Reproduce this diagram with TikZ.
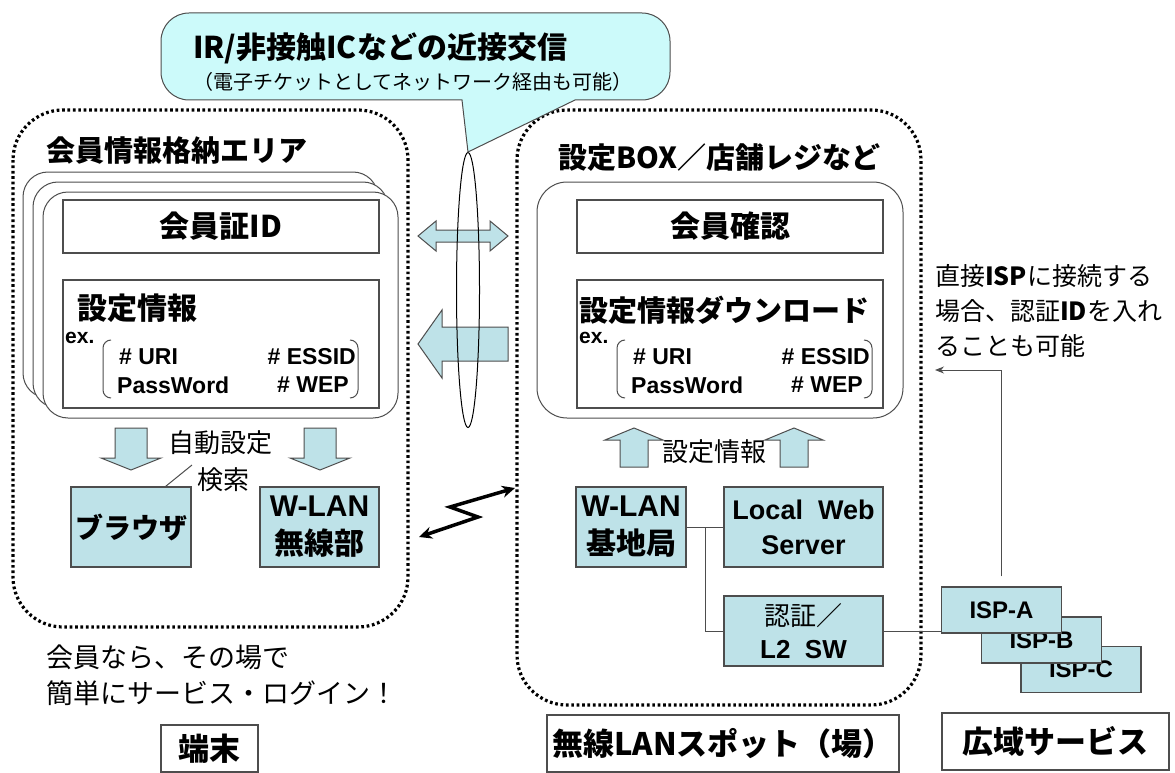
\documentclass[tikz,border=0pt]{standalone}
\usepackage{fontspec}
\setmainfont{Noto Sans CJK JP}
\newfontfamily\lat{Liberation Sans}
\usetikzlibrary{arrows.meta,shapes.geometric}
\definecolor{boxblue}{HTML}{BEE2E8}
\definecolor{callcyan}{HTML}{CCFAFA}
\definecolor{linegray}{HTML}{4D4D4D}
\newcommand\fsz[2]{\fontsize{#1pt}{#2pt}\selectfont}
\begin{document}
\begin{tikzpicture}[x=1pt,y=-1pt]
    % Styles for the areas, boxes and arrows
    \tikzset{
        dotbox/.style={
            draw,
            line width=3.2pt,
            dash pattern=on 2.7pt off 2.7pt,
            line cap=butt,
            rounded corners=50pt
        },
        card/.style={
            draw=linegray,
            fill=white,
            line width=1pt,
            rounded corners=25pt
        },
        plainbox/.style={
            draw=linegray,
            line width=1.2pt,
            fill=white,
            inner sep=0pt,
            align=center
        },
        bluebox/.style={
            plainbox,
            fill=boxblue
        },
        blockarrow/.style={
            draw=linegray,
            fill=boxblue,
            line width=1pt
        },
        txt/.style={
            inner sep=0pt,
            anchor=west
        },
        zap/.style={
            line width=3.5pt,
            {Stealth[length=13pt,width=12pt]}-{Stealth[length=13pt,width=12pt]}
        }
    }
    \useasboundingbox (0,0) rectangle (1175,773);
    % Dotted areas for terminal and spot
    \draw[dotbox] (13,110) rectangle (408,627);
    \draw[dotbox] (517,110) rectangle (921,705);
    \node[txt, font=\fsz{29}{29}\bfseries] (termtitle) at (46,150) {会員情報格納エリア};
    \node[txt, font=\fsz{29}{29}\bfseries] (spottitle) at (558,158) {設定BOX／店舗レジなど};
    % Stack of member cards, back to front
    \foreach \k in {2,1,0} {
        \draw[card] (43-10*\k,192-10*\k) rectangle ++(355,226);
    }
    \draw[card, rounded corners=30pt] (537,182) rectangle (903,418);
    % Boxes on the cards
    \node[plainbox, minimum width=316pt, minimum height=53pt, font=\fsz{30}{30}\bfseries] (memberid) at (221,226.5) {会員証ID};
    \node[plainbox, minimum width=316pt, minimum height=128pt] (setinfo) at (221,344) {};
    \node[plainbox, minimum width=306pt, minimum height=53pt, font=\fsz{30}{30}\bfseries] (memcheck) at (730,226.5) {会員確認};
    \node[plainbox, minimum width=306pt, minimum height=128pt] (download) at (730,344) {};
    \node[txt, font=\fsz{30}{30}\bfseries] (setinfotitle) at (77,308) {設定情報};
    \node[txt, font=\fsz{29}{29}\bfseries] (downloadtitle) at (579,310) {設定情報ダウンロード};
    % Example entries, same in both boxes
    \foreach \x in {63,577} {
        \node[txt, font=\lat\fsz{21}{21}\bfseries] at (\x+2,338) {ex.};
        \draw[linegray, line width=1pt, rounded corners=8pt] (\x+48,340) -- (\x+40,340) -- (\x+40,398) -- (\x+48,398);
        \draw[linegray, line width=1pt, rounded corners=8pt] (\x+287,340) -- (\x+295,340) -- (\x+295,398) -- (\x+287,398);
        \node[txt, font=\lat\fsz{23}{23}\bfseries] at (\x+56,357) {\# URI};
        \node[txt, font=\lat\fsz{23}{23}\bfseries, anchor=east] at (\x+293,357) {\# ESSID};
        \node[txt, font=\lat\fsz{23}{23}\bfseries] at (\x+54,385) {PassWord};
        \node[txt, font=\lat\fsz{23}{23}\bfseries, anchor=east] at (\x+286,385) {\# WEP};
    }
    % Block arrows across the link
    \draw[blockarrow] (418,236) -- (436,221) -- (436,230) -- (490,230) -- (490,221) -- (508,236)
        -- (490,251) -- (490,242) -- (436,242) -- (436,251) -- cycle;
    \draw[blockarrow] (418,344) -- (442,310) -- (442,327) -- (508,327) -- (508,361) -- (442,361) -- (442,378) -- cycle;
    % Down arrows to browser and W-LAN, up arrows to download
    \foreach \ax in {131,320} {
        \draw[blockarrow] (\ax-16,428) -- (\ax+16,428) -- (\ax+16,458) -- (\ax+30,458) -- (\ax,470)
            -- (\ax-30,458) -- (\ax-16,458) -- cycle;
    }
    \foreach \ax in {634,794} {
        \draw[blockarrow] (\ax-14,467) -- (\ax+14,467) -- (\ax+14,440) -- (\ax+29,440) -- (\ax,428)
            -- (\ax-29,440) -- (\ax-14,440) -- cycle;
    }
    \node[txt, font=\fsz{26}{26}] (autoset) at (168,443) {自動設定};
    \node[txt, font=\fsz{26}{26}] (search) at (197,480) {検索};
    \node[txt, font=\fsz{26}{26}] (setflow) at (662,452) {設定情報};
    % Near field link and callout
    \node[draw, line width=1pt, ellipse, minimum width=23pt, minimum height=275pt, inner sep=0pt] (link) at (468,290) {};
    \draw[fill=callcyan, draw=linegray, line width=1pt] (link.north) -- (462,100) [rounded corners=28pt] -- (161,100)
        -- (161,13) -- (670,13) -- (670,100) [sharp corners] -- (575,100) -- cycle;
    \node[txt, font=\fsz{30}{30}\bfseries] (calltitle) at (193,48) {IR/非接触ICなどの近接交信};
    \node[txt, font=\fsz{20}{20}] (callnote) at (193,82) {（電子チケットとしてネットワーク経由も可能）};
    % Terminal parts
    \node[bluebox, minimum width=120pt, minimum height=80pt, font=\fsz{28}{28}\bfseries] (browser) at (131,527) {ブラウザ};
    \node[bluebox, minimum width=119pt, minimum height=80pt, font=\fsz{30}{38}\bfseries] (wlanif) at (319.5,527) {{\lat W-LAN}\\無線部};
    \coordinate (slashtop) at (192,465);
    \draw[linegray, line width=1pt] ([xshift=-26pt]browser.north east) -- (slashtop);
    % Wireless link between terminal and spot
    \coordinate (zapL) at (419,537);
    \coordinate (zapR) at (515,488);
    \draw[zap] (zapL) -- (478,517) -- (450,507) -- (zapR);
    % Spot parts
    \node[bluebox, minimum width=110pt, minimum height=80pt, font=\fsz{30}{38}\bfseries] (ap) at (631,527) {{\lat W-LAN}\\基地局};
    \node[bluebox, minimum width=159pt, minimum height=80pt, font=\lat\fsz{27}{35}\bfseries] (web) at (803.5,527) {Local\ \ Web\\Server};
    \node[bluebox, minimum width=159pt, minimum height=70pt, font=\fsz{26}{33}] (auth) at (803.5,631) {認証／\\{\lat\bfseries L2\ \ SW}};
    \coordinate (jct) at (705,527);
    \draw[linegray, line width=1pt] (ap.east) -- (web.west);
    \draw[linegray, line width=1pt] (jct) |- (auth.west);
    % ISP stack, back to front
    \foreach \n/\cx/\cy in {C/1081/669.5,B/1041.5/640,A/1001.5/610} {
        \node[bluebox, minimum width=120pt, minimum height=46pt, font=\lat\fsz{24}{24}\bfseries] (isp\n) at (\cx,\cy) {ISP-\n};
    }
    \draw[linegray, line width=1pt] (auth.east) -- (auth.east -| ispA.west);
    \coordinate (notept) at (935,370);
    \draw[linegray, line width=1pt, -{Stealth[length=9pt,width=7pt]}] ([yshift=10pt]ispA.north) |- (notept);
    \node[txt, font=\fsz{25}{35}, align=left] (note) at (935,311) {直接\textbf{ISP}に接続する\\場合、認証\textbf{ID}を入れ\\ることも可能};
    % Slogan and bottom labels
    \node[txt, font=\fsz{27}{36}, align=left] (slogan) at (46,675) {会員なら、その場で\\簡単にサービス・ログイン！};
    \node[plainbox, minimum width=97pt, minimum height=47pt, font=\fsz{31}{31}\bfseries] (termlabel) at (209.5,748.5) {端末};
    \node[plainbox, minimum width=352pt, minimum height=57pt, font=\fsz{31}{31}\bfseries] (spotlabel) at (723,743.5) {無線LANスポット（場）};
    \node[plainbox, minimum width=227pt, minimum height=57pt, font=\fsz{31}{31}\bfseries] (widelabel) at (1055.5,741.5) {広域サービス};
\end{tikzpicture}
\end{document}
